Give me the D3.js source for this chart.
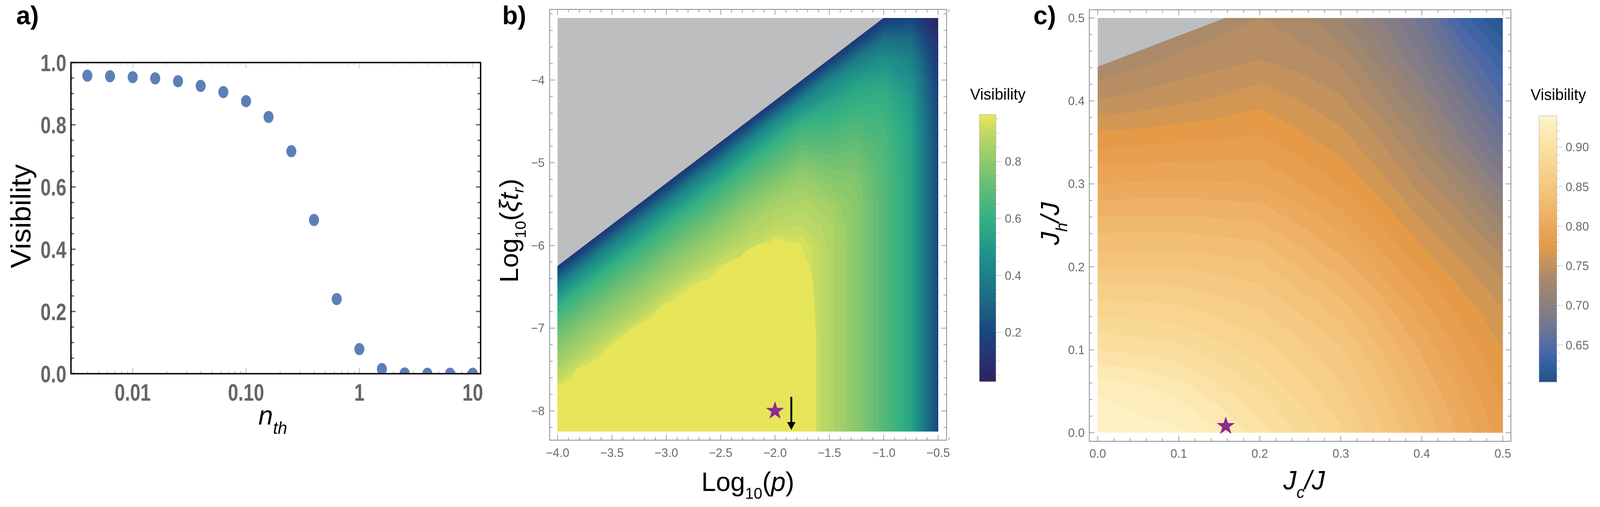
<!DOCTYPE html>
<html>
<head>
<meta charset="utf-8">
<script src="https://cdn.jsdelivr.net/npm/d3@7"></script>
<style>
  html, body { margin: 0; padding: 0; overflow: hidden; background: #fff; }
  svg { display: block; position: fixed; left: 0; top: 0; width: 100vw; height: 100vh; }
</style>
</head>
<body>
<svg id="fig" viewBox="0 0 4148 1297" preserveAspectRatio="none"></svg>
<script>
// ---------- panel a : visibility vs n_th
const nth  = [0.00398, 0.00631, 0.01, 0.0158, 0.0251, 0.0398, 0.0631, 0.1, 0.158, 0.251, 0.398, 0.631, 1, 1.58, 2.51, 3.98, 6.31, 10];
const visA = [0.958, 0.956, 0.953, 0.949, 0.940, 0.925, 0.905, 0.876, 0.825, 0.715, 0.494, 0.240, 0.079, 0.015, 0.001, 0, 0, 0];
const aXTicks  = [0.01, 0.1, 1, 10];
const aXLabels = ["0.01", "0.10", "1", "10"];
const aYTicks  = [0, 0.2, 0.4, 0.6, 0.8, 1.0];

// ---------- panel b : Log10(xi t_r) vs Log10(p)
const bX = [-4, -3.75, -3.5, -3.25, -3, -2.75, -2.5, -2.25, -2, -1.75, -1.5, -1.25, -1, -0.75, -0.5];
const bY = [-8.25, -8, -7.75, -7.5, -7.25, -7, -6.75, -6.5, -6.25, -6, -5.75, -5.5, -5.25, -5, -4.75, -4.5, -4.25, -4, -3.75, -3.5, -3.25];
// one row per bY value, one entry per bX value
const bV = [
  [0.95, 0.95, 0.95, 0.95, 0.95, 0.95, 0.95, 0.95, 0.95, 0.95, 0.875, 0.788, 0.68, 0.545, 0.20],
  [0.95, 0.95, 0.95, 0.95, 0.95, 0.95, 0.95, 0.95, 0.95, 0.95, 0.875, 0.788, 0.68, 0.545, 0.20],
  [0.95, 0.95, 0.95, 0.95, 0.95, 0.95, 0.95, 0.95, 0.95, 0.95, 0.875, 0.788, 0.68, 0.545, 0.20],
  [0.865, 0.95, 0.95, 0.95, 0.95, 0.95, 0.95, 0.95, 0.95, 0.95, 0.875, 0.788, 0.68, 0.545, 0.20],
  [0.795, 0.865, 0.95, 0.95, 0.95, 0.95, 0.95, 0.95, 0.95, 0.95, 0.875, 0.788, 0.68, 0.545, 0.20],
  [0.71, 0.795, 0.865, 0.95, 0.95, 0.95, 0.95, 0.95, 0.95, 0.95, 0.875, 0.788, 0.68, 0.545, 0.20],
  [0.60, 0.71, 0.795, 0.858, 0.95, 0.95, 0.95, 0.95, 0.95, 0.95, 0.875, 0.788, 0.68, 0.545, 0.20],
  [0.42, 0.60, 0.71, 0.79, 0.865, 0.95, 0.95, 0.95, 0.95, 0.95, 0.875, 0.788, 0.68, 0.545, 0.20],
  [0.13, 0.42, 0.60, 0.704, 0.795, 0.858, 0.93, 0.95, 0.95, 0.95, 0.875, 0.788, 0.68, 0.545, 0.20],
  [0, 0.13, 0.42, 0.59, 0.71, 0.79, 0.853, 0.90, 0.95, 0.94, 0.875, 0.788, 0.68, 0.545, 0.20],
  [0, 0, 0.13, 0.42, 0.60, 0.704, 0.785, 0.855, 0.89, 0.90, 0.871, 0.788, 0.68, 0.545, 0.20],
  [0, 0, 0, 0.13, 0.42, 0.59, 0.70, 0.79, 0.85, 0.87, 0.84, 0.787, 0.68, 0.545, 0.20],
  [0, 0, 0, 0, 0.13, 0.42, 0.59, 0.71, 0.78, 0.83, 0.795, 0.776, 0.678, 0.545, 0.20],
  [0, 0, 0, 0, 0, 0.13, 0.41, 0.60, 0.70, 0.77, 0.743, 0.748, 0.673, 0.543, 0.20],
  [0, 0, 0, 0, 0, 0, 0.13, 0.43, 0.60, 0.69, 0.684, 0.707, 0.66, 0.54, 0.20],
  [0, 0, 0, 0, 0, 0, 0, 0.13, 0.44, 0.59, 0.617, 0.655, 0.64, 0.532, 0.195],
  [0, 0, 0, 0, 0, 0, 0, 0, 0.13, 0.42, 0.537, 0.592, 0.598, 0.51, 0.185],
  [0, 0, 0, 0, 0, 0, 0, 0, 0, 0.13, 0.42, 0.517, 0.55, 0.465, 0.17],
  [0, 0, 0, 0, 0, 0, 0, 0, 0, 0, 0.13, 0.38, 0.46, 0.41, 0.14],
  [0, 0, 0, 0, 0, 0, 0, 0, 0, 0, 0, 0.13, 0.34, 0.32, 0.10],
  [0, 0, 0, 0, 0, 0, 0, 0, 0, 0, 0, 0, 0.13, 0.19, 0.04]
];
// edge of the V > 0.95 plateau (yellow)
const bPlateau = [[-4, -8.25], [-4, -7.70], [-3.88, -7.62], [-3.83, -7.50], [-3.76, -7.46], [-3.62, -7.36],
  [-3.56, -7.25], [-3.45, -7.15], [-3.31, -6.99], [-3.14, -6.89], [-3.08, -6.78], [-3.01, -6.70], [-2.88, -6.64],
  [-2.78, -6.50], [-2.59, -6.38], [-2.50, -6.25], [-2.34, -6.15], [-2.25, -6.05], [-2.14, -5.98], [-2.04, -5.96],
  [-2.00, -5.91], [-1.77, -5.98], [-1.68, -6.25], [-1.648, -6.49], [-1.636, -6.72], [-1.623, -7.12], [-1.62, -8.25]];
const bEdge = [[-4, -6.25], [-1.0, -3.25]];     // border of the computed region
const bStar = [-2.0, -8.0];
const bArrow = [-1.85, -7.83, -8.23];
const bXTicks = [-4, -3.5, -3, -2.5, -2, -1.5, -1, -0.5];
const bYTicks = [-8, -7, -6, -5, -4];
const bBarTicks = [0.2, 0.4, 0.6, 0.8];
const bStops  = [0.0, 0.1, 0.2, 0.3, 0.4, 0.5, 0.6, 0.7, 0.8, 0.9, 0.965];
const bColors = ["#2a1e5c", "#28306f", "#17477f", "#1d6484", "#1b8088", "#21988a", "#34b182", "#5dbb77", "#8fc96b", "#c0d964", "#e7e65a"];

// ---------- panel c : J_h/J vs J_c/J
const cX = [0, 0.05, 0.1, 0.15, 0.2, 0.25, 0.3, 0.35, 0.4, 0.45, 0.5];
const cY = [0, 0.05, 0.1, 0.15, 0.2, 0.25, 0.3, 0.35, 0.4, 0.45, 0.5];
const cV = [
  [0.937, 0.934, 0.932, 0.922, 0.905, 0.889, 0.872, 0.852, 0.830, 0.807, 0.785],
  [0.929, 0.925, 0.917, 0.903, 0.890, 0.876, 0.862, 0.842, 0.820, 0.798, 0.777],
  [0.900, 0.897, 0.893, 0.884, 0.875, 0.864, 0.852, 0.830, 0.808, 0.787, 0.770],
  [0.875, 0.874, 0.872, 0.866, 0.860, 0.848, 0.835, 0.815, 0.794, 0.776, 0.760],
  [0.850, 0.850, 0.850, 0.846, 0.843, 0.829, 0.815, 0.797, 0.778, 0.762, 0.745],
  [0.825, 0.826, 0.826, 0.824, 0.822, 0.810, 0.797, 0.780, 0.762, 0.745, 0.720],
  [0.800, 0.801, 0.802, 0.801, 0.800, 0.790, 0.779, 0.764, 0.745, 0.725, 0.695],
  [0.777, 0.778, 0.780, 0.781, 0.783, 0.774, 0.765, 0.750, 0.728, 0.700, 0.670],
  [0.750, 0.754, 0.758, 0.762, 0.767, 0.760, 0.752, 0.733, 0.710, 0.680, 0.650],
  [0.730, 0.736, 0.742, 0.746, 0.750, 0.745, 0.738, 0.715, 0.690, 0.660, 0.632],
  [0.710, 0.720, 0.730, 0.735, 0.740, 0.733, 0.720, 0.700, 0.675, 0.635, 0.607]
];
const cEdge = [[0, 0.441], [0.158, 0.5]];
const cStar = [0.158, 0.008];
const cTicks = [0, 0.1, 0.2, 0.3, 0.4, 0.5];
const cBarTicks = [0.65, 0.70, 0.75, 0.80, 0.85, 0.90];
const cStops  = [0.60, 0.62, 0.64, 0.66, 0.68, 0.70, 0.72, 0.74, 0.76, 0.775, 0.80, 0.825, 0.85, 0.875, 0.90, 0.94];
const cColors = ["#1f4e84", "#2d5c9c", "#4566a9", "#616f9b", "#76778c", "#8a7f82", "#9b8573", "#b08c66",
                 "#cb955a", "#e49a47", "#eba75a", "#f0b86c", "#f4c67e", "#f8d48e", "#fbe0a2", "#fdf5c9"];

// ================= drawing
const svg = d3.select("#fig");
const SANS = "'Liberation Sans', Arial, sans-serif";
const TICK = "#8a8a8a", LAB = "#6a6a6a", GRAY = "#bdbec0";

// panel letters
svg.selectAll("text.plab").data([["a)", 42], ["b)", 1302], ["c)", 2679]]).join("text")
  .attr("x", d => d[1]).attr("y", 62).text(d => d[0])
  .attr("font-family", SANS).attr("font-weight", "bold").attr("font-size", 66);

// draws filled contour bands of a grid through the panel scales
function contourBands(g, xs, ys, rows, thresholds, color, x, y) {
  const n = xs.length, m = ys.length;
  const gx = d3.scaleLinear().domain([0.5, n - 0.5]).range([xs[0], xs[n - 1]]);
  const gy = d3.scaleLinear().domain([0.5, m - 0.5]).range([ys[0], ys[m - 1]]);
  const path = d3.geoPath(d3.geoTransform({
    point(px, py) { this.stream.point(x(gx(px)), y(gy(py))); }
  }));
  const step = thresholds[1] - thresholds[0];
  g.selectAll("path.band")
    .data(d3.contours().size([n, m]).thresholds(thresholds)(rows.flat()))
    .join("path").attr("class", "band")
    .attr("d", path)
    .attr("fill", d => color(d.value + step / 2))
    .attr("stroke", d => color(d.value + step / 2)).attr("stroke-width", 0.6);
}

// inward ticks on all four sides of a frame
function frameTicks(g, f, xt, yt, xs, ys, isMajor, len) {
  g.selectAll("line.xt").data(xt).join("line").attr("class", "xt")
    .attr("x1", d => xs(d)).attr("x2", d => xs(d))
    .attr("y1", f.y1).attr("y2", d => f.y1 - (isMajor.x(d) ? len[0] : len[1]));
  g.selectAll("line.xt2").data(xt).join("line").attr("class", "xt2")
    .attr("x1", d => xs(d)).attr("x2", d => xs(d))
    .attr("y1", f.y0).attr("y2", d => f.y0 + (isMajor.x(d) ? len[0] : len[1]));
  g.selectAll("line.yt").data(yt).join("line").attr("class", "yt")
    .attr("y1", d => ys(d)).attr("y2", d => ys(d))
    .attr("x1", f.x0).attr("x2", d => f.x0 + (isMajor.y(d) ? len[0] : len[1]));
  g.selectAll("line.yt2").data(yt).join("line").attr("class", "yt2")
    .attr("y1", d => ys(d)).attr("y2", d => ys(d))
    .attr("x1", f.x1).attr("x2", d => f.x1 - (isMajor.y(d) ? len[0] : len[1]));
}

function colorBar(g, box, dom, color, majors, minors, fmt) {
  const s = d3.scaleLinear().domain(dom).range([box.y1, box.y0]);
  const st = (dom[1] - dom[0]) / 200;
  g.selectAll("rect.cb").data(d3.range(dom[0], dom[1], st)).join("rect").attr("class", "cb")
    .attr("x", box.x0).attr("width", box.x1 - box.x0)
    .attr("y", d => s(Math.min(d + st, dom[1]))).attr("height", d => s(d) - s(Math.min(d + st, dom[1])) + 0.6)
    .attr("fill", d => color(d + st / 2));
  g.append("rect").attr("x", box.x0).attr("y", box.y0).attr("width", box.x1 - box.x0).attr("height", box.y1 - box.y0)
    .attr("fill", "none").attr("stroke", "#b0b0b0").attr("stroke-width", 1);
  g.selectAll("line.cbt").data(minors).join("line").attr("class", "cbt")
    .attr("x1", box.x1).attr("x2", box.x1 + 9).attr("y1", d => s(d)).attr("y2", d => s(d))
    .attr("stroke", "#cfcfcf").attr("stroke-width", 1.2);
  g.selectAll("line.cbm").data(majors).join("line").attr("class", "cbm")
    .attr("x1", box.x1).attr("x2", box.x1 + 15).attr("y1", d => s(d)).attr("y2", d => s(d))
    .attr("stroke", "#c4c4c4").attr("stroke-width", 1.4);
  g.selectAll("text.cbl").data(majors).join("text").attr("class", "cbl")
    .attr("x", box.x1 + 23).attr("y", d => s(d) + 11).text(fmt)
    .attr("font-family", SANS).attr("font-size", 31).attr("fill", LAB);
  g.append("text").attr("x", box.tx).attr("y", box.ty).text("Visibility")
    .attr("font-family", SANS).attr("font-size", 40).attr("fill", "#000");
}

// ---------- panel a
{
  const f = { x0: 184, x1: 1246, y0: 160, y1: 956 };
  const x = d3.scaleLog().domain([0.01, 10]).range([344, 1225.5]);
  x.domain([x.invert(f.x0), x.invert(f.x1)]).range([f.x0, f.x1]);
  const y = d3.scaleLinear().domain([0, 1]).range([f.y1, f.y0]);
  const g = svg.append("g");

  g.append("clipPath").attr("id", "clipA").append("rect")
    .attr("x", f.x0).attr("y", f.y0).attr("width", f.x1 - f.x0).attr("height", f.y1 - f.y0);
  g.append("g").attr("clip-path", "url(#clipA)")
    .selectAll("ellipse").data(nth).join("ellipse")
    .attr("cx", d => x(d)).attr("cy", (d, i) => y(visA[i]))
    .attr("rx", 13).attr("ry", 15.5).attr("fill", "#5b80b8");

  const isDec = d => Math.abs(Math.log10(d) - Math.round(Math.log10(d))) < 1e-6;
  const lt = x.ticks();
  g.selectAll("line.lb").data(lt).join("line").attr("class", "lb")
    .attr("x1", d => x(d)).attr("x2", d => x(d)).attr("y1", f.y1).attr("y2", d => f.y1 - (isDec(d) ? 14 : 7))
    .attr("stroke", "#888").attr("stroke-width", 1.2);
  g.selectAll("line.lt").data(lt).join("line").attr("class", "lt")
    .attr("x1", d => x(d)).attr("x2", d => x(d)).attr("y1", f.y0).attr("y2", d => f.y0 + (isDec(d) ? 14 : 7))
    .attr("stroke", "#aaa").attr("stroke-width", 1.2);
  const yt = d3.range(0, 1.0001, 0.05);
  const isMaj = d => Math.abs(d * 5 - Math.round(d * 5)) < 1e-6;
  [[f.x0, 1], [f.x1, -1]].forEach(([x0, dir]) => {
    g.append("g").selectAll("line").data(yt).join("line")
      .attr("x1", x0).attr("x2", d => x0 + dir * (isMaj(d) ? 12 : 8))
      .attr("y1", d => y(d)).attr("y2", d => y(d))
      .attr("stroke", "#666").attr("stroke-width", 3.5);
  });
  g.append("rect").attr("x", f.x0).attr("y", f.y0).attr("width", f.x1 - f.x0).attr("height", f.y1 - f.y0)
    .attr("fill", "none").attr("stroke", "#000").attr("stroke-width", 3.5);

  // condensed bold tick labels
  g.selectAll("text.yl").data(aYTicks).join("text").attr("class", "yl")
    .attr("transform", d => `translate(172,${y(d) + 22}) scale(0.79,1)`).attr("text-anchor", "end").text(d => d.toFixed(1))
    .attr("font-family", SANS).attr("font-weight", "bold").attr("font-size", 61).attr("fill", "#666");
  g.selectAll("text.xl").data(aXTicks).join("text").attr("class", "xl")
    .attr("transform", d => `translate(${x(d)},1025) scale(0.79,1)`).attr("text-anchor", "middle").text((d, i) => aXLabels[i])
    .attr("font-family", SANS).attr("font-weight", "bold").attr("font-size", 61).attr("fill", "#666");

  g.append("text").attr("transform", "translate(79,553) rotate(-90)").attr("text-anchor", "middle")
    .text("Visibility").attr("font-family", SANS).attr("font-size", 74);
  const nt = g.append("text").attr("x", 670).attr("y", 1086)
    .attr("font-family", SANS).attr("font-style", "italic").attr("font-size", 68);
  nt.append("tspan").text("n");
  nt.append("tspan").attr("dy", 24).attr("font-size", 44).text("th");
}

// ---------- panel b
{
  const f = { x0: 1425, x1: 2454, y0: 24, y1: 1126 };
  const x = d3.scaleLinear().domain([-4, -0.5]).range([1445.5, 2432]);
  const y = d3.scaleLinear().domain([-8.25, -3.25]).range([1104, 46]);
  const color = d3.scaleLinear().domain(bStops).range(bColors).clamp(true);
  const line = d3.line().x(d => x(d[0])).y(d => y(d[1]));
  const g = svg.append("g");
  const x0 = bX[0], x1 = bX[bX.length - 1], y0 = bY[0], y1 = bY[bY.length - 1];

  g.append("rect").attr("x", x(x0)).attr("y", y(y1)).attr("width", x(x1) - x(x0)).attr("height", y(y0) - y(y1))
    .attr("fill", GRAY);
  const region = [[x0, y0], [x1, y0], [x1, y1], bEdge[1], bEdge[0]];
  g.append("clipPath").attr("id", "clipB").append("path").attr("d", line(region) + "Z");
  const gc = g.append("g").attr("clip-path", "url(#clipB)");
  contourBands(gc, bX, bY, bV, d3.range(0, 0.97, 0.02), color, x, y);
  gc.append("path").attr("d", line(bPlateau) + "Z").attr("fill", "#e6e55a");

  // marker and arrow
  g.append("path").attr("d", d3.symbol(d3.symbolStar, 700)())
    .attr("transform", `translate(${x(bStar[0])},${y(bStar[1])})`).attr("fill", "#8b2b8f");
  const ax = x(bArrow[0]), ay0 = y(bArrow[1]), ay1 = y(bArrow[2]);
  g.append("line").attr("x1", ax).attr("x2", ax).attr("y1", ay0).attr("y2", ay1 - 15)
    .attr("stroke", "#000").attr("stroke-width", 5);
  g.append("path").attr("d", `M${ax - 11},${ay1 - 20}L${ax + 11},${ay1 - 20}L${ax},${ay1}Z`).attr("fill", "#000");

  // frame and ticks
  const tg = g.append("g").attr("stroke", TICK).attr("stroke-width", 1.6);
  frameTicks(tg, f, d3.range(-40, -4 + 1).map(d => d / 10), d3.range(-41, -16 + 1).map(d => d / 5), x, y,
    { x: d => Math.abs(d * 2 - Math.round(d * 2)) < 1e-6, y: d => Math.abs(d - Math.round(d)) < 1e-6 }, [14, 8]);
  g.append("rect").attr("x", f.x0).attr("y", f.y0).attr("width", f.x1 - f.x0).attr("height", f.y1 - f.y0)
    .attr("fill", "none").attr("stroke", TICK).attr("stroke-width", 2);

  g.selectAll("text.xl").data(bXTicks).join("text").attr("class", "xl")
    .attr("x", d => x(d)).attr("y", 1169).attr("text-anchor", "middle").text(d => "\u2212" + Math.abs(d).toFixed(1))
    .attr("font-family", SANS).attr("font-size", 31).attr("fill", LAB);
  g.selectAll("text.yl").data(bYTicks).join("text").attr("class", "yl")
    .attr("x", 1412).attr("y", d => y(d) + 11).attr("text-anchor", "end").text(d => "\u2212" + Math.abs(d))
    .attr("font-family", SANS).attr("font-size", 31).attr("fill", LAB);

  const xl = g.append("text").attr("x", (x(x0) + x(x1)) / 2).attr("y", 1256).attr("text-anchor", "middle")
    .attr("font-family", SANS).attr("font-size", 68);
  xl.append("tspan").text("Log");
  xl.append("tspan").attr("dy", 20).attr("font-size", 40).text("10");
  xl.append("tspan").attr("dy", -20).text("(");
  xl.append("tspan").attr("font-style", "italic").text("p");
  xl.append("tspan").text(")");

  const yl = g.append("text").attr("transform", "translate(1343,590) rotate(-90)").attr("text-anchor", "middle")
    .attr("font-family", SANS).attr("font-size", 68);
  yl.append("tspan").text("Log");
  yl.append("tspan").attr("dy", 20).attr("font-size", 40).text("10");
  yl.append("tspan").attr("dy", -20).text("(");
  yl.append("tspan").attr("font-style", "italic").text("\u03BEt");
  yl.append("tspan").attr("dy", 14).attr("font-size", 40).attr("font-style", "italic").text("r");
  yl.append("tspan").attr("dy", -14).text(")");

  colorBar(svg.append("g"), { x0: 2539, x1: 2582, y0: 293, y1: 976, tx: 2515, ty: 255 },
    [0.0276, 0.965], color, bBarTicks, d3.range(1, 20).map(d => d / 20), d => d.toFixed(1));
}

// ---------- panel c
{
  const f = { x0: 2824, x1: 3917, y0: 25, y1: 1129 };
  const x = d3.scaleLinear().domain([0, 0.5]).range([2846, 3896]);
  const y = d3.scaleLinear().domain([0, 0.5]).range([1107, 46]);
  const color = d3.scaleLinear().domain(cStops).range(cColors).clamp(true);
  const line = d3.line().x(d => x(d[0])).y(d => y(d[1]));
  const g = svg.append("g");
  const x0 = cX[0], x1 = cX[cX.length - 1], y0 = cY[0], y1 = cY[cY.length - 1];

  g.append("rect").attr("x", x(x0)).attr("y", y(y1)).attr("width", x(x1) - x(x0)).attr("height", y(y0) - y(y1))
    .attr("fill", GRAY);
  const region = [[x0, y0], [x1, y0], [x1, y1], cEdge[1], cEdge[0]];
  g.append("clipPath").attr("id", "clipC").append("path").attr("d", line(region) + "Z");
  const gc = g.append("g").attr("clip-path", "url(#clipC)");
  contourBands(gc, cX, cY, cV, d3.range(0.60, 0.945, 0.01), color, x, y);

  g.append("path").attr("d", d3.symbol(d3.symbolStar, 700)())
    .attr("transform", `translate(${x(cStar[0])},${y(cStar[1])})`).attr("fill", "#8b2b8f");

  const tg = g.append("g").attr("stroke", TICK).attr("stroke-width", 1.6);
  const tk = d3.range(0, 26).map(d => d / 50);
  const maj = d => Math.abs(d * 10 - Math.round(d * 10)) < 1e-6;
  frameTicks(tg, f, tk, tk, x, y, { x: maj, y: maj }, [14, 8]);
  g.append("rect").attr("x", f.x0).attr("y", f.y0).attr("width", f.x1 - f.x0).attr("height", f.y1 - f.y0)
    .attr("fill", "none").attr("stroke", TICK).attr("stroke-width", 2);

  g.selectAll("text.xl").data(cTicks).join("text").attr("class", "xl")
    .attr("x", d => x(d)).attr("y", 1171).attr("text-anchor", "middle").text(d => d.toFixed(1))
    .attr("font-family", SANS).attr("font-size", 31).attr("fill", LAB);
  g.selectAll("text.yl").data(cTicks).join("text").attr("class", "yl")
    .attr("x", 2812).attr("y", d => y(d) + 11).attr("text-anchor", "end").text(d => d.toFixed(1))
    .attr("font-family", SANS).attr("font-size", 31).attr("fill", LAB);

  const xl = g.append("text").attr("x", 3381).attr("y", 1252).attr("text-anchor", "middle")
    .attr("font-family", SANS).attr("font-style", "italic").attr("font-size", 68);
  xl.append("tspan").text("J");
  xl.append("tspan").attr("dy", 22).attr("font-size", 42).text("c");
  xl.append("tspan").attr("dy", -22).text("/J");

  const yl = g.append("text").attr("transform", "translate(2745,572) rotate(-90)").attr("text-anchor", "middle")
    .attr("font-family", SANS).attr("font-style", "italic").attr("font-size", 68);
  yl.append("tspan").text("J");
  yl.append("tspan").attr("dy", 22).attr("font-size", 42).text("h");
  yl.append("tspan").attr("dy", -22).text("/J");

  colorBar(svg.append("g"), { x0: 3990, x1: 4036, y0: 296, y1: 977, tx: 3968, ty: 256 },
    [0.6035, 0.9396], color, cBarTicks, d3.range(61, 94).map(d => d / 100), d => d.toFixed(2));
}
</script>
</body>
</html>
